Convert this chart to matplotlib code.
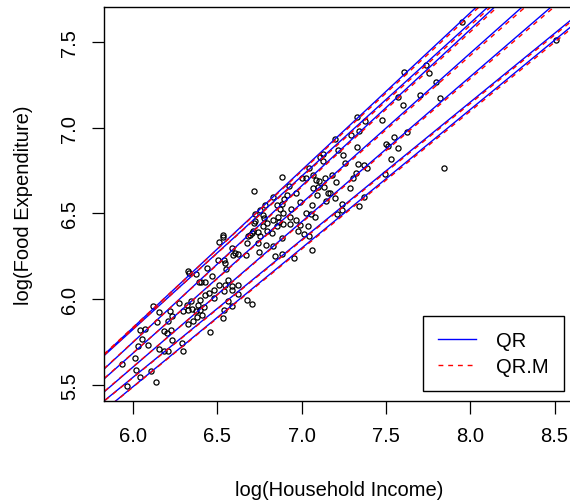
import numpy as np
import matplotlib.pyplot as plt

plt.rcParams['font.family'] = ['Liberation Sans', 'DejaVu Sans']

# log household income / log food expenditure
log_income = [
    7.950, 8.510, 7.607, 7.740, 7.757, 7.797, 7.573, 7.700, 7.601, 7.823,
    7.327, 7.376, 7.479, 7.198, 7.291, 7.339, 7.218, 7.330, 7.244, 7.256,
    7.499, 7.511, 7.548, 7.627, 7.570, 7.528, 7.336, 7.368, 7.386, 7.321,
    7.178, 7.202, 7.307, 7.289, 7.495, 7.845, 7.370, 7.168, 7.238, 7.208,
    7.241, 7.340, 6.882, 6.719, 7.046, 7.109, 7.129, 7.125, 7.001, 7.026,
    7.069, 7.085, 7.103, 7.139, 6.967, 6.915, 7.069, 7.099, 7.133, 7.158,
    7.093, 6.832, 6.927, 7.198, 6.990, 6.896, 7.143, 7.060, 6.783, 6.852,
    6.882, 6.935, 6.872, 6.891, 7.024, 6.769, 6.724, 6.858, 6.967, 7.079,
    6.777, 6.718, 6.773, 6.832, 6.852, 6.868, 6.891, 6.931, 7.040, 6.713,
    6.743, 6.793, 6.823, 6.980, 7.016, 6.882, 6.532, 6.694, 6.753, 7.056,
    6.931, 6.990, 6.753, 6.724, 6.793, 6.704, 6.787, 6.832, 6.842, 6.882,
    6.955, 7.060, 7.046, 6.680, 6.674, 6.668, 6.743, 6.747, 6.621, 6.536,
    6.512, 6.589, 6.605, 6.595, 6.506, 6.540, 6.546, 6.552, 6.437, 6.328,
    6.332, 6.372, 6.393, 6.403, 6.427, 6.467, 6.562, 6.510, 6.546, 6.621,
    6.585, 6.589, 6.540, 6.482, 6.451, 6.427, 6.397, 6.384, 6.275, 6.344,
    6.322, 6.352, 6.374, 6.324, 6.354, 6.407, 6.480, 6.625, 6.674, 6.704,
    6.565, 6.540, 6.589, 6.532, 6.457, 6.117, 6.156, 6.219, 6.230, 6.209,
    6.184, 6.203, 6.225, 6.230, 6.144, 6.042, 6.071, 6.052, 6.026, 6.091,
    6.156, 6.184, 6.209, 6.289, 6.298, 6.012, 5.933, 6.018, 6.105, 6.298,
    6.328, 6.381, 6.397, 6.421, 6.042, 5.963, 6.135,
]
log_food = [
    7.620, 7.510, 7.325, 7.364, 7.319, 7.267, 7.179, 7.189, 7.134, 7.175,
    7.062, 7.041, 7.045, 6.934, 6.959, 6.981, 6.870, 6.887, 6.839, 6.796,
    6.907, 6.895, 6.946, 6.977, 6.880, 6.819, 6.788, 6.784, 6.767, 6.736,
    6.726, 6.683, 6.707, 6.650, 6.728, 6.765, 6.596, 6.619, 6.555, 6.498,
    6.518, 6.543, 6.714, 6.632, 6.763, 6.831, 6.847, 6.808, 6.705, 6.705,
    6.724, 6.697, 6.687, 6.705, 6.621, 6.606, 6.648, 6.652, 6.656, 6.619,
    6.609, 6.596, 6.660, 6.590, 6.567, 6.584, 6.571, 6.547, 6.547, 6.551,
    6.555, 6.526, 6.526, 6.502, 6.502, 6.489, 6.497, 6.479, 6.460, 6.479,
    6.473, 6.444, 6.425, 6.463, 6.425, 6.450, 6.438, 6.438, 6.425, 6.396,
    6.390, 6.399, 6.386, 6.396, 6.380, 6.357, 6.372, 6.372, 6.366, 6.497,
    6.477, 6.431, 6.518, 6.454, 6.442, 6.386, 6.317, 6.308, 6.253, 6.263,
    6.240, 6.287, 6.368, 6.366, 6.327, 6.259, 6.327, 6.275, 6.263, 6.364,
    6.333, 6.298, 6.269, 6.259, 6.230, 6.226, 6.211, 6.177, 6.181, 6.166,
    6.152, 6.147, 6.098, 6.098, 6.100, 6.137, 6.113, 6.081, 6.084, 6.084,
    6.075, 6.053, 6.046, 6.055, 6.036, 6.022, 5.997, 5.967, 5.977, 5.991,
    5.967, 5.942, 5.932, 5.855, 5.871, 5.909, 6.006, 6.030, 5.997, 5.971,
    5.991, 5.938, 5.958, 5.890, 5.808, 5.962, 5.923, 5.932, 5.900, 5.871,
    5.812, 5.802, 5.822, 5.763, 5.867, 5.822, 5.827, 5.769, 5.725, 5.731,
    5.711, 5.696, 5.699, 5.744, 5.699, 5.656, 5.623, 5.585, 5.579, 5.929,
    5.935, 5.894, 5.935, 5.952, 5.546, 5.495, 5.518,
]

# quantile regression fits, one line per tau
taus = [0.05, 0.10, 0.25, 0.50, 0.75, 0.90, 0.95]
qr_intercept = [0.635, 0.726, 0.519, 0.432, 0.274, 0.460, 0.320]
qr_slope = [0.809, 0.803, 0.8475, 0.8755, 0.9125, 0.894, 0.919]
qrm_intercept = [0.657, 0.742, 0.559, 0.478, 0.320, 0.510, 0.370]
qrm_slope = [0.805, 0.800, 0.841, 0.868, 0.905, 0.886, 0.911]

fig = plt.figure(figsize=(5.7, 5.02), dpi=100)
ax = fig.add_axes([0.183, 0.1992, 0.823, 0.784])

ax.plot(log_income, log_food, 'o', ms=3.7, mfc='none', mec='black', mew=0.9)

xs = np.array([5.7, 8.7])
for a, b in zip(qr_intercept, qr_slope):
    ax.plot(xs, a + b * xs, color='blue', lw=1.0)
for a, b in zip(qrm_intercept, qrm_slope):
    ax.plot(xs, a + b * xs, color='red', lw=1.0, ls=(0, (3.5, 3.5)))

ax.set_xlim(5.829, 8.612)
ax.set_ylim(5.405, 7.703)
ax.set_xticks([6.0, 6.5, 7.0, 7.5, 8.0, 8.5])
ax.set_yticks([5.5, 6.0, 6.5, 7.0, 7.5])
ax.set_yticklabels(['5.5', '6.0', '6.5', '7.0', '7.5'], rotation=90, va='center')
ax.tick_params(direction='out', length=9, width=0.9, labelsize=14.5, pad=9)
for s in ax.spines.values():
    s.set_linewidth(1.0)

ax.set_xlabel('log(Household Income)', fontsize=14.5, labelpad=25)
ax.set_ylabel('log(Food Expenditure)', fontsize=14.5, labelpad=20)

ax.plot([], [], color='blue', lw=1.0, label='QR')
ax.plot([], [], color='red', lw=1.0, ls=(0, (3.5, 3.5)), label='QR.M')
handles, labels = ax.get_legend_handles_labels()
leg = ax.legend(handles[-2:], labels[-2:], loc='lower right',
                bbox_to_anchor=(564 / 570, 110 / 502),
                bbox_transform=fig.transFigure, borderaxespad=0,
                fontsize=14.5, fancybox=False, framealpha=1, edgecolor='black',
                handlelength=1.9, handletextpad=1.0, borderpad=0.75,
                labelspacing=0.35)
leg.get_frame().set_linewidth(1.0)

fig.savefig('out.png', dpi=100)
